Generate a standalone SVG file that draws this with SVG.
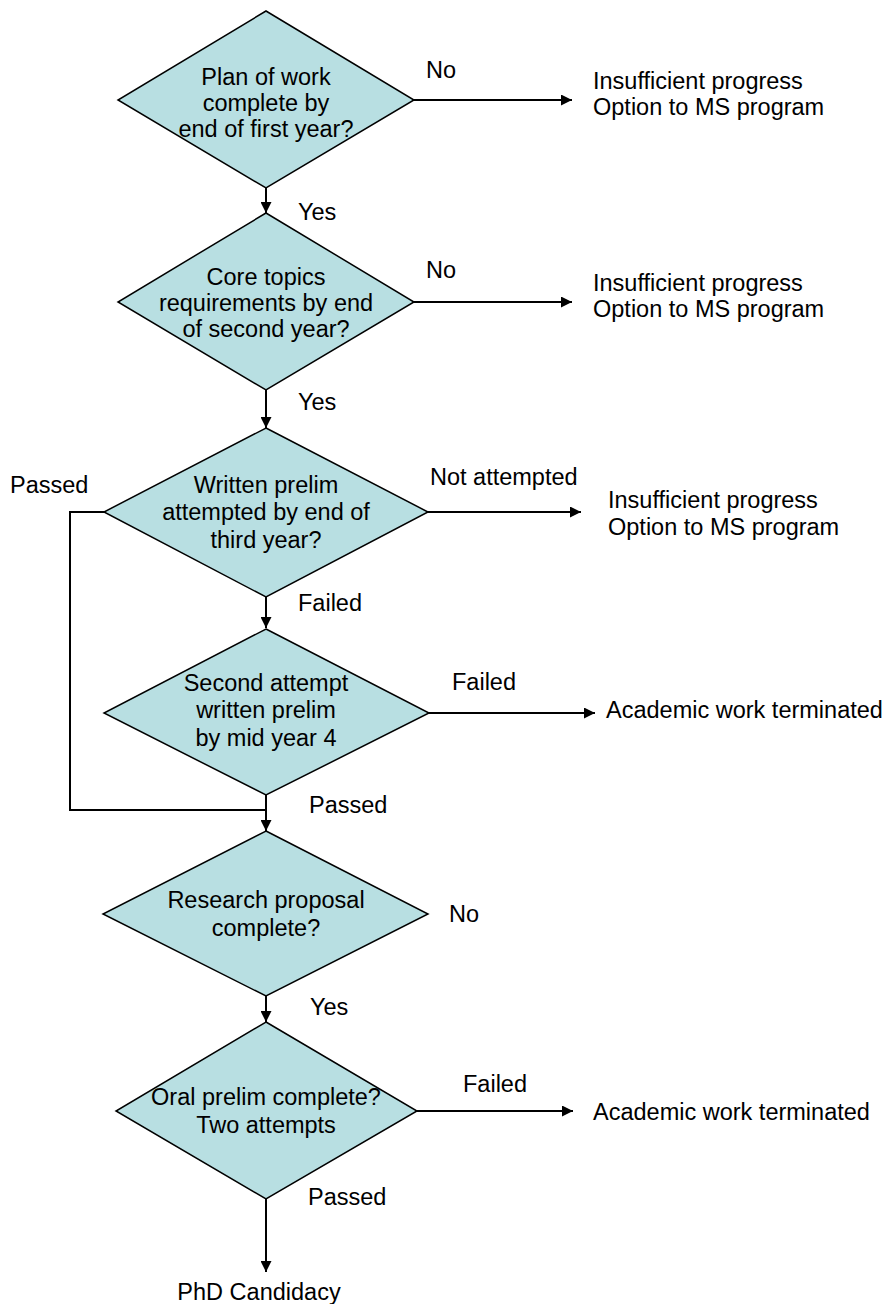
<svg xmlns="http://www.w3.org/2000/svg" width="886" height="1304" viewBox="0 0 886 1304">
<style>
text{font-family:"Liberation Sans",Arial,sans-serif;font-size:23.5px;fill:#000}
.c{text-anchor:middle}
.d{fill:#b8dfe2;stroke:#000;stroke-width:1.5}
.l{fill:none;stroke:#000;stroke-width:2}
</style>
<defs>
<marker id="ah" viewBox="0 0 10 10" refX="10" refY="5" markerWidth="5.5" markerHeight="5.5" orient="auto" markerUnits="strokeWidth">
<path d="M0,0 L10,5 L0,10 z" fill="#000"/>
</marker>
</defs>
<rect width="886" height="1304" fill="#fff"/>
<g id="connectors">
<path class="l" d="M414,100 H572" marker-end="url(#ah)"/>
<path class="l" d="M266,188 V213" marker-end="url(#ah)"/>
<path class="l" d="M414,302 H572" marker-end="url(#ah)"/>
<path class="l" d="M266,390 V428" marker-end="url(#ah)"/>
<path class="l" d="M428,512 H581" marker-end="url(#ah)"/>
<path class="l" d="M104,512 H70 V810 H266"/>
<path class="l" d="M266,597 V628" marker-end="url(#ah)"/>
<path class="l" d="M429,713 H595" marker-end="url(#ah)"/>
<path class="l" d="M266,795 V831" marker-end="url(#ah)"/>
<path class="l" d="M266,996 V1022" marker-end="url(#ah)"/>
<path class="l" d="M417,1111 H573" marker-end="url(#ah)"/>
<path class="l" d="M266,1199 V1272" marker-end="url(#ah)"/>
</g>
<g id="labels">
<text x="426" y="78">No</text>
<text x="298" y="220">Yes</text>
<text x="426" y="278">No</text>
<text x="298" y="410">Yes</text>
<text x="10" y="493">Passed</text>
<text x="430" y="485">Not attempted</text>
<text x="298" y="611">Failed</text>
<text x="452" y="690">Failed</text>
<text x="309" y="813">Passed</text>
<text x="449" y="922">No</text>
<text x="310" y="1015">Yes</text>
<text x="463" y="1092">Failed</text>
<text x="308" y="1205">Passed</text>
</g>
<g id="d1">
<polygon class="d" points="266,11 414,100 266,188 118,100"/>
<text class="c" x="266" y="85">Plan of work</text>
<text class="c" x="266" y="111">complete by</text>
<text class="c" x="266" y="137">end of first year?</text>
</g>
<g id="d2">
<polygon class="d" points="266,213 414,302 266,390 118,302"/>
<text class="c" x="266" y="285">Core topics</text>
<text class="c" x="266" y="311">requirements by end</text>
<text class="c" x="266" y="337">of second year?</text>
</g>
<g id="d3">
<polygon class="d" points="266,428 428,512 266,597 104,512"/>
<text class="c" x="266" y="493">Written prelim</text>
<text class="c" x="266" y="520">attempted by end of</text>
<text class="c" x="266" y="548">third year?</text>
</g>
<g id="d4">
<polygon class="d" points="266,629 429,713 266,795 104,713"/>
<text class="c" x="266" y="691">Second attempt</text>
<text class="c" x="266" y="718">written prelim</text>
<text class="c" x="266" y="746">by mid year 4</text>
</g>
<g id="d5">
<polygon class="d" points="266,831 428,914 266,996 103,914"/>
<text class="c" x="266" y="908">Research proposal</text>
<text class="c" x="266" y="936">complete?</text>
</g>
<g id="d6">
<polygon class="d" points="266,1022 417,1111 266,1199 116,1111"/>
<text class="c" x="266" y="1105">Oral prelim complete?</text>
<text class="c" x="266" y="1133">Two attempts</text>
</g>
<g id="o1">
<text x="593" y="89">Insufficient progress</text>
<text x="593" y="115">Option to MS program</text>
</g>
<g id="o2">
<text x="593" y="291">Insufficient progress</text>
<text x="593" y="317">Option to MS program</text>
</g>
<g id="o3">
<text x="608" y="508">Insufficient progress</text>
<text x="608" y="535">Option to MS program</text>
</g>
<g id="o4">
<text x="606" y="718">Academic work terminated</text>
</g>
<g id="o6">
<text x="593" y="1120">Academic work terminated</text>
</g>
<g id="end">
<text class="c" x="259" y="1300">PhD Candidacy</text>
</g>
</svg>
